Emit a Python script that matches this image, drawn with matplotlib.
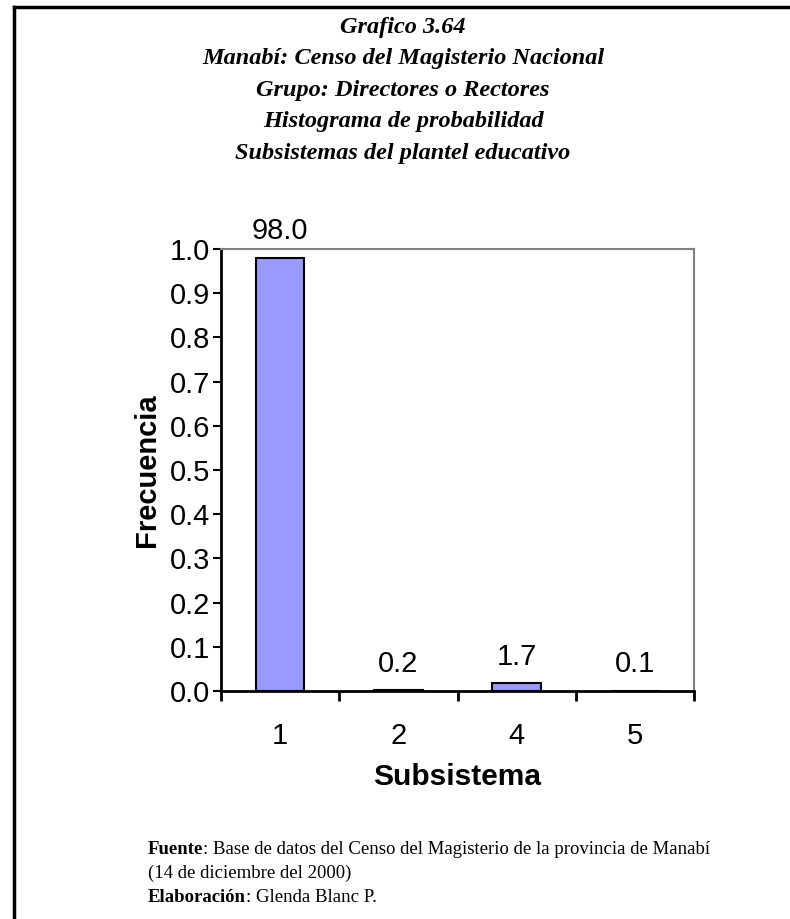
import matplotlib.pyplot as plt
from matplotlib.lines import Line2D
from matplotlib.ticker import FixedLocator

categories = ["1", "2", "4", "5"]
frecuencia = [0.980, 0.002, 0.017, 0.001]
porcentaje = [98.0, 0.2, 1.7, 0.1]

title_lines = [
    "Grafico 3.64",
    "Manabí: Censo del Magisterio Nacional",
    "Grupo: Directores o Rectores",
    "Histograma de probabilidad",
    "Subsistemas del plantel educativo",
]

fig = plt.figure(figsize=(7.9, 9.19), dpi=100)
W, H = 790, 919

# outer frame (left and top only)
fig.add_artist(Line2D([14 / W, 14 / W], [0, 1 - 7 / H], color="black", lw=2.5, transform=fig.transFigure))
fig.add_artist(Line2D([14 / W, 1], [1 - 7 / H, 1 - 7 / H], color="black", lw=2.5, transform=fig.transFigure))

# title
for i, line in enumerate(title_lines):
    fig.text(403 / W, 1 - (27 + i * 31.6) / H, line, ha="center", va="center",
             family="Liberation Serif", fontweight="bold", style="italic", fontsize=17.5)

ax = fig.add_axes([221 / W, 1 - 691 / H, (694 - 221) / W, (691 - 249) / H])
x = range(len(categories))
ax.bar(x, frecuencia, width=0.41, color="#9999ff", edgecolor="black", linewidth=1.5, zorder=3)

for xi, f, p in zip(x, frecuencia, porcentaje):
    ax.annotate(f"{p:.1f}", (xi, f), xytext=(0, 9), textcoords="offset points",
                ha="center", va="bottom", family="Liberation Sans", fontsize=21)

ax.set_xlim(-0.5, len(categories) - 0.5)
ax.set_ylim(0, 1.0)
ax.set_yticks([i / 10 for i in range(11)])
ax.set_yticklabels([f"{i / 10:.1f}" for i in range(11)], family="Liberation Sans", fontsize=21)
ax.set_xticks(list(x))
ax.set_xticklabels(categories, family="Liberation Sans", fontsize=21)
ax.tick_params(axis="x", which="major", length=0, pad=22)
ax.xaxis.set_minor_locator(FixedLocator([i - 0.5 for i in range(len(categories) + 1)]))
ax.tick_params(axis="x", which="minor", length=7, width=2, direction="out")
ax.tick_params(axis="y", length=6, width=1.5, direction="out", pad=2)

for side in ["top", "right"]:
    ax.spines[side].set_color("#808080")
    ax.spines[side].set_linewidth(1.5)
for side in ["left", "bottom"]:
    ax.spines[side].set_color("black")
    ax.spines[side].set_linewidth(2)

ax.set_xlabel("Subsistema", family="Liberation Sans", fontweight="bold", fontsize=21.5, labelpad=10)
ax.set_ylabel("Frecuencia", family="Liberation Sans", fontweight="bold", fontsize=21, labelpad=6)

# footer
foot_kw = dict(ha="left", va="center", family="Liberation Serif", fontsize=13.5)
t1 = fig.text(148 / W, 1 - 849 / H, "Fuente", fontweight="bold", **foot_kw)
fig.canvas.draw()
bb = t1.get_window_extent()
fig.text(bb.x1 / W, 1 - 849 / H, ": Base de datos del Censo del Magisterio de la provincia de Manabí", **foot_kw)
fig.text(148 / W, 1 - 873 / H, "(14 de diciembre del 2000)", **foot_kw)
t3 = fig.text(148 / W, 1 - 897 / H, "Elaboración", fontweight="bold", **foot_kw)
fig.canvas.draw()
bb = t3.get_window_extent()
fig.text(bb.x1 / W, 1 - 897 / H, ": Glenda Blanc P.", **foot_kw)

fig.savefig("out.png", dpi=100)
